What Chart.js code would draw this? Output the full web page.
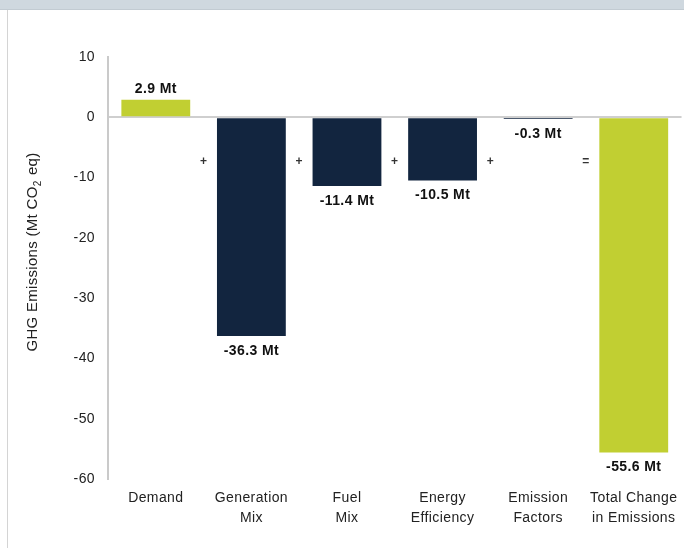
<!DOCTYPE html>
<html>
<head>
<meta charset="utf-8">
<script src="https://cdn.jsdelivr.net/npm/chart.js@4"></script>
<style>
  html, body { margin: 0; padding: 0; background: #fff; }
  #wrap { width: 684px; height: 548px; position: relative; }
</style>
</head>
<body>
<div id="wrap"><canvas id="ghgChart" width="684" height="548"></canvas></div>
<script>
// Dữ liệu biểu đồ
const categories = [['Demand'], ['Generation', 'Mix'], ['Fuel', 'Mix'], ['Energy', 'Efficiency'], ['Emission', 'Factors'], ['Total Change', 'in Emissions']];
const values = [2.9, -36.3, -11.4, -10.5, -0.3, -55.6];
const valueLabels = ['2.9 Mt', '-36.3 Mt', '-11.4 Mt', '-10.5 Mt', '-0.3 Mt', '-55.6 Mt'];
const operators = ['+', '+', '+', '+', '='];
const yMin = -60, yMax = 10, yStep = 10;

const GREEN = '#c1cf32';
const NAVY = '#12253f';
const barColors = [GREEN, NAVY, NAVY, NAVY, NAVY, GREEN];
const FONT = 'Arial, "Liberation Sans", sans-serif';

// Nền: dải xám phía trên + viền trái
const framePlugin = {
    id: 'frame',
    beforeDraw(chart) {
        const ctx = chart.ctx;
        ctx.save();
        ctx.fillStyle = '#cfd8df';
        ctx.fillRect(0, 0, 684, 9);
        ctx.fillStyle = '#c2cbd2';
        ctx.fillRect(0, 9, 684, 1);
        ctx.fillStyle = '#d4d4d4';
        ctx.fillRect(7, 10, 1, 538);
        ctx.restore();
        ctx.letterSpacing = '0.4px';
    }
};

// Nhãn giá trị, dấu + / = và tiêu đề trục y
const labelPlugin = {
    id: 'labels',
    afterDraw(chart) {
        const ctx = chart.ctx;
        const meta = chart.getDatasetMeta(0);
        const xs = chart.scales.x, ys = chart.scales.y;
        ctx.save();
        ctx.letterSpacing = '0.4px';
        ctx.fillStyle = '#111';
        ctx.font = 'bold 14px ' + FONT;
        ctx.textAlign = 'center';
        ctx.textBaseline = 'middle';
        meta.data.forEach((bar, i) => {
            const y = values[i] >= 0 ? bar.y - 11 : bar.y + 15;
            ctx.fillText(valueLabels[i], bar.x, y);
        });

        ctx.font = 'bold 12px ' + FONT;
        ctx.fillStyle = '#333';
        operators.forEach((op, i) => {
            const x = (xs.getPixelForValue(i) + xs.getPixelForValue(i + 1)) / 2;
            ctx.fillText(op, x, ys.getPixelForValue(-7.3));
        });

        // tiêu đề trục y với chỉ số dưới
        ctx.translate(33, 252);
        ctx.rotate(-Math.PI / 2);
        ctx.fillStyle = '#222';
        ctx.textAlign = 'left';
        ctx.letterSpacing = '0.3px';
        const p1 = 'GHG Emissions (Mt CO', p2 = '2', p3 = ' eq)';
        ctx.font = '15px ' + FONT;
        const w1 = ctx.measureText(p1).width;
        const w3 = ctx.measureText(p3).width;
        ctx.font = '10px ' + FONT;
        const w2 = ctx.measureText(p2).width + 1;
        let x = -(w1 + w2 + w3) / 2;
        ctx.font = '15px ' + FONT;
        ctx.fillText(p1, x, 0);
        x += w1;
        ctx.font = '10px ' + FONT;
        ctx.fillText(p2, x, 5);
        x += w2;
        ctx.font = '15px ' + FONT;
        ctx.fillText(p3, x, 0);
        ctx.restore();
    }
};

new Chart(document.getElementById('ghgChart'), {
    type: 'bar',
    data: {
        labels: categories,
        datasets: [{
            data: values,
            backgroundColor: barColors,
            borderWidth: 0,
            barPercentage: 0.72,
            categoryPercentage: 1
        }]
    },
    options: {
        responsive: false,
        animation: false,
        layout: { padding: { top: 57, left: 0, right: -3, bottom: 0 } },
        plugins: {
            legend: { display: false },
            tooltip: { enabled: false }
        },
        scales: {
            x: {
                grid: { display: false, drawTicks: false },
                border: { display: false },
                ticks: {
                    color: '#222',
                    font: { family: FONT, size: 14, lineHeight: 1.45 },
                    padding: 9,
                    maxRotation: 0,
                    autoSkip: false
                },
                afterFit(scale) { scale.height = 69; }
            },
            y: {
                min: yMin,
                max: yMax,
                grid: {
                    drawTicks: false,
                    lineWidth: 2,
                    color: ctx => ctx.tick && ctx.tick.value === 0 ? '#cfcfcf' : 'rgba(0,0,0,0)'
                },
                border: { display: true, color: '#cacaca', width: 2 },
                ticks: {
                    stepSize: yStep,
                    color: '#222',
                    font: { family: FONT, size: 14 },
                    padding: 13
                },
                afterFit(scale) { scale.width = 108; }
            }
        }
    },
    plugins: [framePlugin, labelPlugin]
});
</script>
</body>
</html>
